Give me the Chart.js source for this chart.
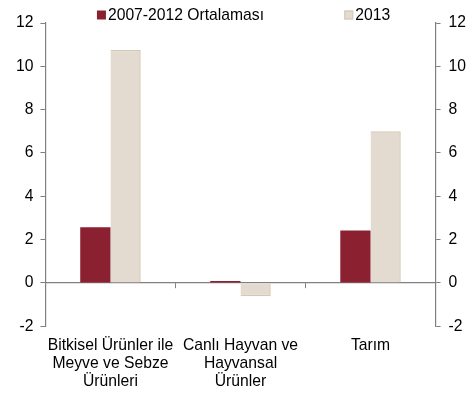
<!DOCTYPE html>
<html><head><meta charset="utf-8">
<script src="https://cdn.jsdelivr.net/npm/chart.js@4/dist/chart.umd.min.js"></script>
<style>html,body{margin:0;padding:0;background:#fff}#w{width:467px;height:396px}</style>
</head><body><div id="w"><canvas id="c"></canvas></div>
<script>
const categories = [["Bitkisel Ürünler ile","Meyve ve Sebze","Ürünleri"],["Canlı Hayvan ve","Hayvansal","Ürünler"],["Tarım"]];
const seriesNames = ["2007-2012 Ortalaması","2013"];
const avg0712 = [2.57, 0.09, 2.42];
const y2013 = [10.75, -0.62, 7.0];
const yTicks = [-2, 0, 2, 4, 6, 8, 10, 12];

const FONT = {family: "'Liberation Sans', Arial, sans-serif", size: 15.7};
const XFONT = {family: "'Liberation Sans', Arial, sans-serif", size: 15.7, lineHeight: 1.12};
const AX = '#808080';
const colors = ['#8B2030', '#E3DAD0'];
const borders = ['#8B2030', '#D6C6B5'];

const legendPlugin = {
  id: 'customLegend',
  afterDraw(chart) {
    const ctx = chart.ctx, a = chart.chartArea;
    const w = a.right - a.left;
    const xs = [a.left + w * 0.132, a.left + w * 0.766];
    ctx.save();
    ctx.font = FONT.size + 'px ' + FONT.family;
    ctx.textBaseline = 'middle';
    seriesNames.forEach((n, i) => {
      ctx.fillStyle = colors[i];
      ctx.fillRect(xs[i], 10.5, 9, 9);
      if (i === 1) { ctx.strokeStyle = borders[1]; ctx.lineWidth = 1; ctx.strokeRect(xs[i] + 0.5, 11, 8, 8); }
      ctx.fillStyle = '#000';
      ctx.fillText(n, xs[i] + 11, 15.5);
    });
    ctx.restore();
  }
};

new Chart(document.getElementById('c'), {
  type: 'bar',
  data: {
    labels: categories,
    datasets: [
      {label: seriesNames[0], data: avg0712, backgroundColor: colors[0], borderColor: borders[0], borderWidth: 0, xAxisID: 'x', yAxisID: 'y'},
      {label: seriesNames[1], data: y2013, backgroundColor: colors[1], borderColor: borders[1], borderWidth: {left: 0, right: 1.5, top: 1.5, bottom: 1.5}, xAxisID: 'x', yAxisID: 'y'}
    ]
  },
  options: {
    responsive: true, maintainAspectRatio: false, animation: false,
    layout: {padding: {top: 23, left: 9, right: -7, bottom: 3}},
    datasets: {bar: {categoryPercentage: 0.465, barPercentage: 1.0}},
    plugins: {legend: {display: false}, tooltip: {enabled: false}},
    scales: {
      x: {
        type: 'category', position: {y: 0}, offset: true,
        grid: {display: true, offset: true, drawOnChartArea: false, drawTicks: true, tickLength: 5, color: AX, lineWidth: 1},
        border: {display: true, color: AX, width: 1.2},
        ticks: {display: false}
      },
      x2: {
        type: 'category', position: 'bottom', offset: true, labels: categories,
        grid: {display: false}, border: {display: false},
        ticks: {font: XFONT, color: '#000', padding: 3, maxRotation: 0, autoSkip: false}
      },
      y: {
        position: 'left', min: -2, max: 12,
        afterBuildTicks: s => { s.ticks = yTicks.map(v => ({value: v})); },
        grid: {drawOnChartArea: false, tickLength: 5, color: AX},
        border: {color: AX, width: 1.2},
        ticks: {font: FONT, color: '#000', padding: 7}
      },
      y2: {
        position: 'right', min: -2, max: 12,
        afterBuildTicks: s => { s.ticks = yTicks.map(v => ({value: v})); },
        grid: {drawOnChartArea: false, tickLength: 5, color: AX},
        border: {color: AX, width: 1.2},
        ticks: {font: FONT, color: '#000', padding: 8}
      }
    }
  },
  plugins: [legendPlugin]
});
</script></body></html>
